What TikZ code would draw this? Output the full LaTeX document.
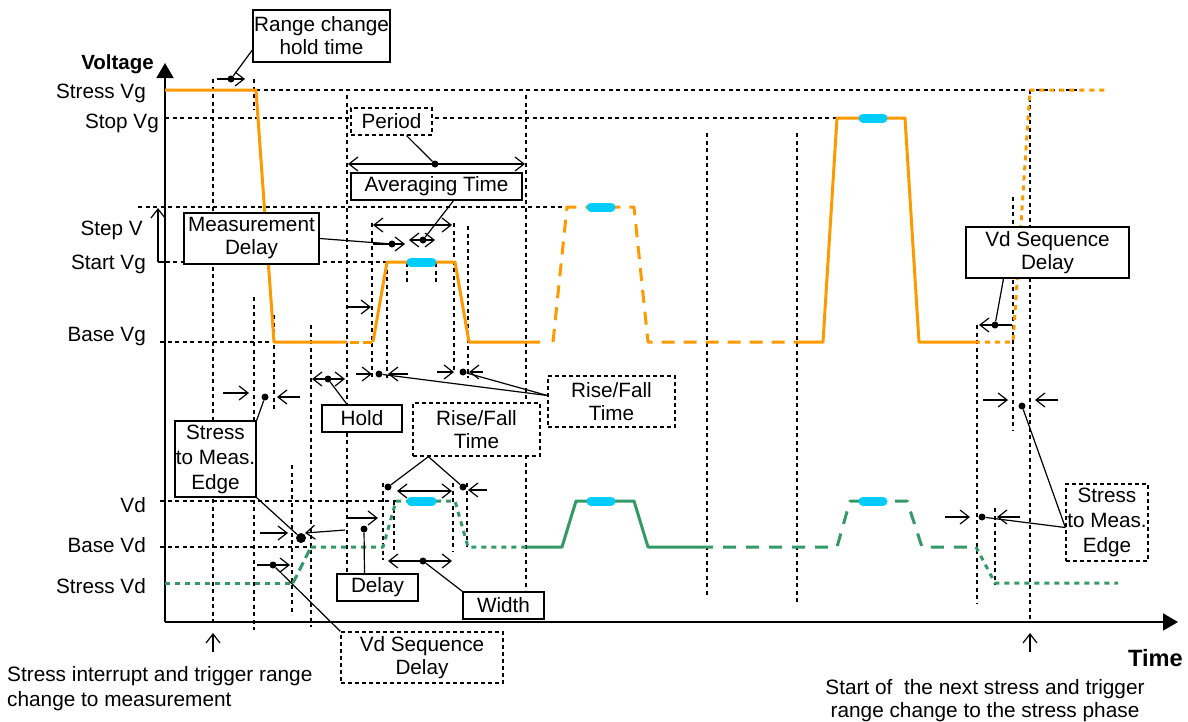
\documentclass[tikz,border=0pt]{standalone}
\usepackage{fontspec}
\setmainfont{Liberation Sans}
\usetikzlibrary{calc,arrows.meta}
\definecolor{vgline}{HTML}{FF9900}
\definecolor{vdline}{HTML}{339966}
\definecolor{meas}{HTML}{00CCFF}
\tikzset{
  lab/.style={font=\fontsize{20.7}{23}\selectfont, inner sep=0pt},
  box/.style={lab, draw, line width=1.3pt, fill=white, align=center},
  dbox/.style={box, dash pattern=on 4pt off 3pt},
  guide/.style={draw=black, line width=1.1pt, dash pattern=on 4pt off 3.5pt},
  vg/.style={draw=vgline, line width=3pt, line join=round},
  vd/.style={draw=vdline, line width=3pt, line join=round},
  win/.style={draw=meas, line width=9pt, line cap=round},
  lead/.style={draw, line width=1.2pt},
  dot/.style={circle, fill, inner sep=0pt, minimum size=7pt},
  marr/.style={draw, line width=1.2pt, -{Straight Barb[length=9pt,width=14pt]}},
  darr/.style={draw, line width=1.2pt, {Straight Barb[length=9pt,width=14pt]}-{Straight Barb[length=9pt,width=14pt]}},
  axis/.style={draw, line width=1.8pt, -{Triangle[length=15pt,width=17pt]}},
}

\begin{document}
\begin{tikzpicture}[x=1pt,y=-1pt]
  \useasboundingbox (0,0) rectangle (1188,721);

  % level lines
  \draw[guide] (256,90) -- (1077,90);
  \draw[guide] (165,118) -- (837,118);
  \draw[guide] (138,207) -- (567,207);
  \draw[guide] (158,262) -- (387,262);
  \draw[guide] (160,342) -- (274,342);
  \draw[guide] (160,501) -- (396,501);
  \draw[guide] (160,547) -- (311,547);

  % time markers
  \foreach \x/\ya/\yb in {213/79/622, 254/79/110, 254/297/630, 274/315/412,
      292/465/615, 311/325/627, 347/95/573, 372/223/377, 387/262/378,
      407/263/282, 436/263/282, 454/223/373, 468/226/378, 526/95/590,
      383/483/560, 394/501/553, 453/483/552, 467/483/547, 707/133/596,
      797/133/605, 977/325/603, 1013/197/430, 1030/90/622, 995/508/585}
    \draw[guide] (\x,\ya) -- (\x,\yb);

  % axes
  \draw[axis] (165,622) -- (165,63);
  \draw[axis] (165,622) -- (1178,622);
  \node[lab, font=\fontsize{20.5}{23}\selectfont\bfseries, anchor=east] (vlab) at (154,64) {Voltage};
  \node[lab, font=\fontsize{23.6}{26}\selectfont\bfseries, anchor=east] (tlab) at (1183,658) {Time};

  % level names
  \node[lab, anchor=east] (lsvg) at (146,93) {Stress Vg};
  \node[lab, anchor=east] (lpvg) at (159,123) {Stop Vg};
  \node[lab, anchor=east] (lstp) at (143,230) {Step V};
  \node[lab, anchor=east] (lavg) at (146,264) {Start Vg};
  \node[lab, anchor=east] (lbvg) at (146,337) {Base Vg};
  \node[lab, anchor=east] (lvd) at (146,505) {Vd};
  \node[lab, anchor=east] (lbvd) at (146,545) {Base Vd};
  \node[lab, anchor=east] (lsvd) at (146,586) {Stress Vd};
  \draw[marr] (158,262) -- (158,208);
  \draw[line width=1.1pt] (158,262) -- (165,262);

  % Vg sweep
  \draw[vg] (165,90) -- (256,90) -- (274,342) -- (347,342);
  \draw[vg, dash pattern=on 9pt off 4pt] (350,342) -- (373,342);
  \draw[vg] (373,342) -- (387,262) -- (455,262) -- (469,342) -- (540,342);
  \draw[vg, dash pattern=on 13pt off 9pt] (553,342) -- (567,207) -- (634,207) -- (648,342) -- (797,342);
  \draw[vg] (797,342) -- (823,342) -- (837,118) -- (905,118) -- (919,342) -- (975,342);
  \draw[vg, dash pattern=on 5pt off 5pt] (975,342) -- (1013,342) -- (1030,90) -- (1107,90);

  % Vd pulses
  \draw[vd, dash pattern=on 5pt off 5pt] (165,583) -- (293,583);
  \draw[vd, dash pattern=on 9pt off 5pt] (293,583) -- (311,547);
  \draw[vd, dash pattern=on 5pt off 5pt] (311,547) -- (383,547) -- (396,501) -- (455,501) -- (468,547) -- (527,547);
  \draw[vd] (527,547) -- (562,547) -- (576,501) -- (634,501) -- (648,547) -- (700,547);
  \draw[vd, dash pattern=on 13pt off 10pt] (700,547) -- (837,547) -- (850,501) -- (907,501) -- (922,547) -- (976,547);
  \draw[vd, dash pattern=on 5pt off 5pt] (976,547) -- (995,583) -- (1118,583);

  % measurement windows
  \foreach \xa/\xb/\y in {411/432/262, 591/611/207, 863/883/118,
      411/432/501, 591/611/501, 863/883/501}
    \draw[win] (\xa,\y) -- (\xb,\y);

  % interval arrows
  \draw[marr] (217,79) -- (245,79);
  \draw[darr] (348,164) -- (525,164);
  \draw[darr] (373,225) -- (452,225);
  \draw[darr] (409,240) -- (435,240);
  \draw[marr] (373,244) -- (405,244);
  \draw[marr] (347,307) -- (371,307);
  \draw[darr] (312,379) -- (345,379);
  \draw[marr] (356,374) -- (372,374);
  \draw[marr] (408,374) -- (388,374);
  \draw[marr] (437,372) -- (454,372);
  \draw[marr] (483,372) -- (469,372);
  \draw[marr] (223,393) -- (249,393);
  \draw[marr] (300,397) -- (277,397);
  \draw[marr] (260,533) -- (288,533);
  \draw[marr] (345,530) -- (305,533);
  \draw[marr] (257,565) -- (290,565);
  \draw[marr] (346,518) -- (378,518);
  \draw[darr] (397,491) -- (452,491);
  \draw[marr] (487,490) -- (468,490);
  \draw[darr] (388,561) -- (452,561);
  \draw[marr] (1012,325) -- (979,325);
  \draw[marr] (945,517) -- (970,517);
  \draw[marr] (1020,517) -- (997,517);
  \draw[marr] (983,400) -- (1008,400);
  \draw[marr] (1058,400) -- (1035,400);
  \draw[marr] (213,652) -- (213,633);
  \draw[marr] (1030,652) -- (1030,633);

  % label boxes
  \node[box, minimum width=137pt, minimum height=52pt] (rng) at (321.5,36) {Range change\\hold time};
  \node[dbox, minimum width=81pt, minimum height=27pt] (per) at (391.5,121.5) {Period};
  \node[box, minimum width=171pt, minimum height=27pt] (avg) at (436.5,186.5) {Averaging Time};
  \node[box, minimum width=135pt, minimum height=51pt] (mdl) at (251.5,238.5) {Measurement\\Delay};
  \node[dbox, minimum width=127pt, minimum height=51pt] (rfa) at (611.5,401.5) {Rise/Fall\\Time};
  \node[box, minimum width=80pt, minimum height=27pt] (hld) at (362,418.5) {Hold};
  \node[dbox, minimum width=127pt, minimum height=53pt] (rfb) at (476.5,429.5) {Rise/Fall\\Time};
  \node[box, minimum width=81pt, minimum height=76pt, font=\fontsize{20.7}{25}\selectfont] (sma) at (215.5,459) {Stress\\to Meas.\\Edge};
  \node[dbox, minimum width=162pt, minimum height=51pt] (vsa) at (422,657.5) {Vd Sequence\\Delay};
  \node[box, minimum width=81pt, minimum height=27pt] (dly) at (377.5,587.5) {Delay};
  \node[box, minimum width=81pt, minimum height=27pt] (wid) at (503.5,605.5) {Width};
  \node[box, minimum width=163pt, minimum height=51pt] (vsb) at (1047.5,252.5) {Vd Sequence\\Delay};
  \node[dbox, minimum width=82pt, minimum height=77pt, font=\fontsize{20.7}{25}\selectfont] (smb) at (1107,522.5) {Stress\\to Meas.\\Edge};

  % leader dots
  \node[dot] (dRng) at (231,79) {};
  \node[dot] (dPer) at (435,164) {};
  \node[dot] (dAvg) at (423,240) {};
  \node[dot] (dMdl) at (392,244) {};
  \node[dot] (dRise) at (379,374) {};
  \node[dot] (dFall) at (463,372) {};
  \node[dot] (dHld) at (328,379) {};
  \node[dot] (dRiseB) at (388,487) {};
  \node[dot] (dFallB) at (463,487) {};
  \node[dot] (dSma) at (265,397) {};
  \node[dot, minimum size=10pt] (dSmb) at (301,538) {};
  \node[dot] (dVsa) at (273,565) {};
  \node[dot] (dDly) at (364,529) {};
  \node[dot] (dWid) at (423,561) {};
  \node[dot] (dVsb) at (995,325) {};
  \node[dot] (dSmc) at (982,517) {};
  \node[dot] (dSmd) at (1022,406) {};

  % leaders
  \draw[lead] ($(rng.west)+(0,14)$) -- (dRng);
  \draw[lead] ($(per.south)+(15,0)$) -- (dPer);
  \draw[lead] ($(avg.south)+(17,0)$) -- (dAvg);
  \draw[lead] (mdl.east) -- (dMdl);
  \draw[lead] ($(rfa.west)+(0,-6)$) -- (dRise);
  \draw[lead] ($(rfa.west)+(0,-6)$) -- (dFall);
  \draw[lead] ($(hld.north)+(-15,0)$) -- (dHld);
  \draw[lead] ($(rfb.south west)+(16,0)$) -- (dRiseB);
  \draw[lead] ($(rfb.south west)+(16,0)$) -- (dFallB);
  \draw[lead] (sma.north east) -- (dSma);
  \draw[lead] (sma.south east) -- (dSmb);
  \draw[lead] (vsa.north west) -- (dVsa);
  \draw[lead] ($(dly.north)+(-13,0)$) -- (dDly);
  \draw[lead] (wid.north west) -- (dWid);
  \draw[lead] ($(vsb.south)+(-44,0)$) -- (dVsb);
  \draw[lead] ($(smb.west)+(0,5)$) -- (dSmc);
  \draw[lead] ($(smb.west)+(0,5)$) -- (dSmd);

  % notes under the time axis
  \node[lab, anchor=north west, align=left, font=\fontsize{20.8}{25}\selectfont] (nstop) at (7,666)
    {Stress interrupt and trigger range\\change to measurement};
  \node[lab, anchor=north, align=center, font=\fontsize{20.8}{23}\selectfont] (nstart) at (985,679)
    {Start of~ the next stress and trigger\\range change to the stress phase};
\end{tikzpicture}
\end{document}
